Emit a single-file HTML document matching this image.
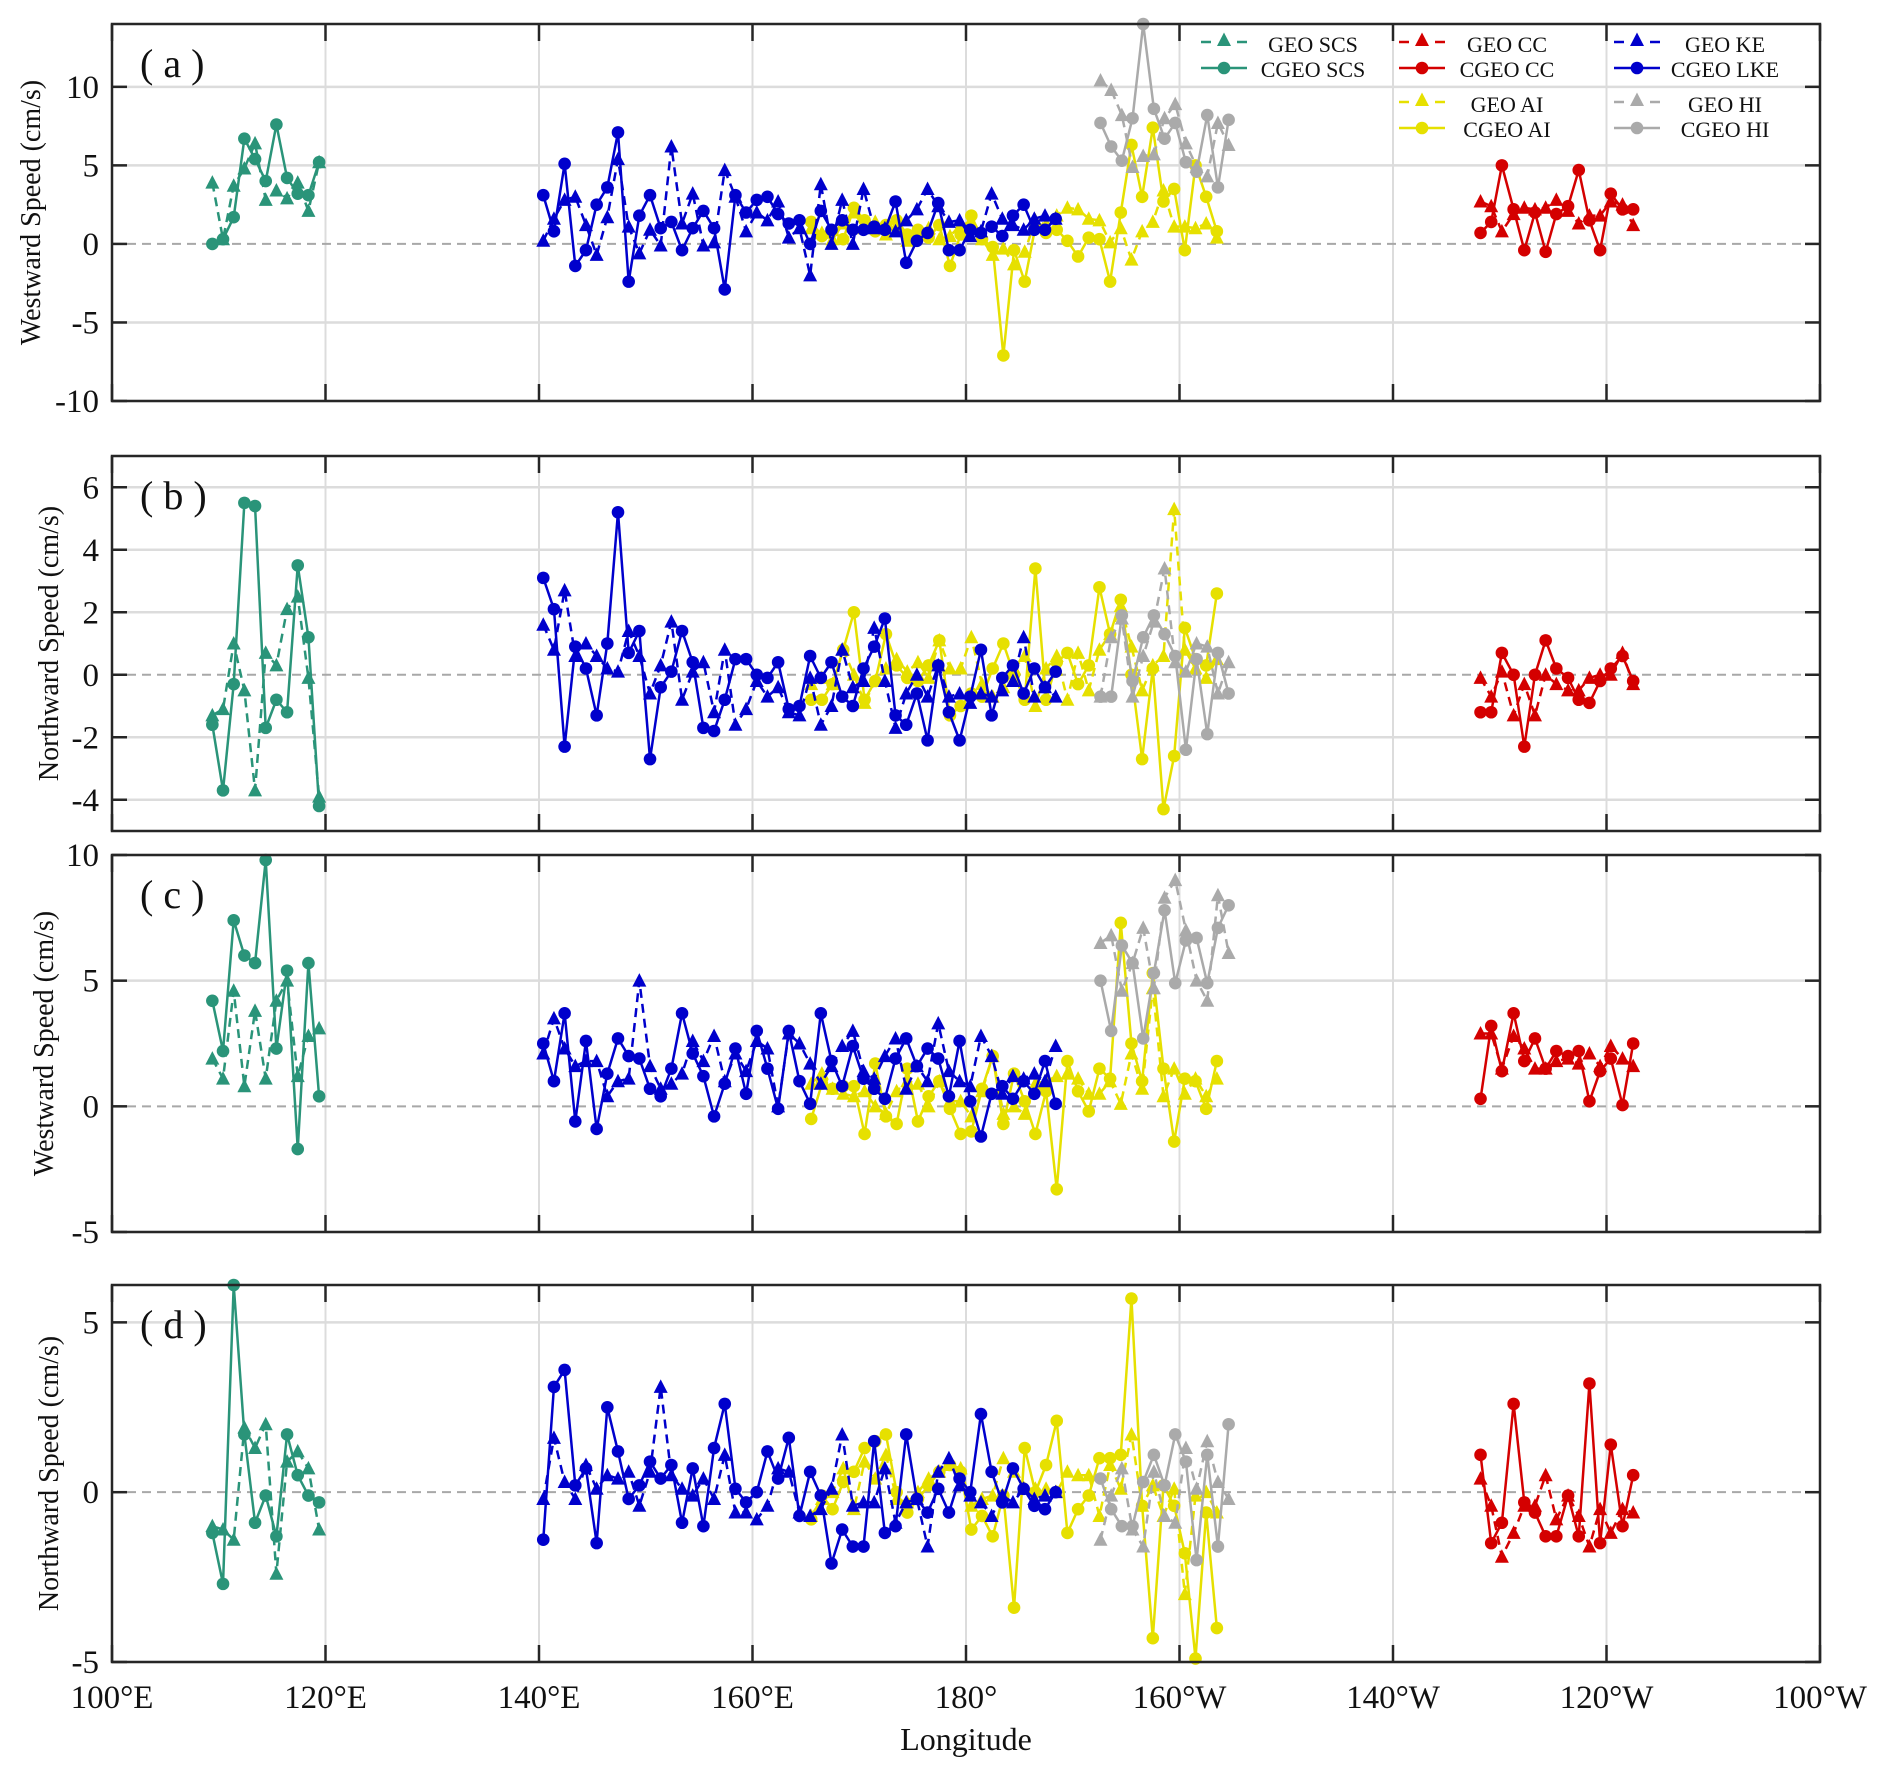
<!DOCTYPE html>
<html><head><meta charset="utf-8">
<style>
html,body{margin:0;padding:0;background:#fff;}
svg{display:block;font-family:"Liberation Serif",serif;}
</style></head>
<body>
<svg id="fig" width="1892" height="1779" viewBox="0 0 1892 1779" xmlns="http://www.w3.org/2000/svg"></svg>
<script>
// ---- categories (longitude, degrees east) ----
const scsLon=[109.4,110.4,111.4,112.4,113.4,114.4,115.4,116.4,117.4,118.4,119.4];
const keLon=[140.4,141.4,142.4,143.4,144.4,145.4,146.4,147.4,148.4,149.4,150.4,151.4,152.4,153.4,154.4,155.4,156.4,157.4,158.4,159.4,160.4,161.4,162.4,163.4,164.4,165.4,166.4,167.4,168.4,169.4,170.4,171.4,172.4,173.4,174.4,175.4,176.4,177.4,178.4,179.4,180.4,181.4,182.4,183.4,184.4,185.4,186.4,187.4,188.4];
const aiLon=[165.5,166.5,167.5,168.5,169.5,170.5,171.5,172.5,173.5,174.5,175.5,176.5,177.5,178.5,179.5,180.5,181.5,182.5,183.5,184.5,185.5,186.5,187.5,188.5,189.5,190.5,191.5,192.5,193.5,194.5,195.5,196.5,197.5,198.5,199.5,200.5,201.5,202.5,203.5];
const hiLon=[192.6,193.6,194.6,195.6,196.6,197.6,198.6,199.6,200.6,201.6,202.6,203.6,204.6];
const ccLon=[228.2,229.2,230.2,231.3,232.3,233.3,234.3,235.3,236.4,237.4,238.4,239.4,240.4,241.5,242.5];

// ---- panel (a) westward ----
const aScsGeo=[3.9,0.3,3.7,4.8,6.4,2.8,3.4,2.9,3.9,2.1,5.2];
const aScsCgeo=[0,0.3,1.7,6.7,5.4,4.0,7.6,4.2,3.2,3.1,5.2];
const aKeGeo=[0.2,1.6,2.8,3.0,1.2,-0.7,1.7,5.4,1.1,-0.6,0.9,-0.1,6.2,1.3,3.2,-0.1,0.1,4.7,3.0,0.8,2.0,1.5,2.7,0.4,1.0,-2.0,3.8,0,2.8,0,3.5,1.0,1.0,0.8,1.5,2.2,3.5,2.4,1.4,1.5,0.5,0.8,3.2,1.6,1.2,0.9,1.6,1.8,1.6];
const aKeCgeo=[3.1,0.8,5.1,-1.4,-0.4,2.5,3.6,7.1,-2.4,1.8,3.1,1.0,1.4,-0.4,1.0,2.1,1.0,-2.9,3.1,2.0,2.8,3.0,1.9,1.3,1.5,0,2.1,0.9,1.5,0.9,0.9,1.1,0.9,2.7,-1.2,0.2,0.7,2.6,-0.4,-0.4,0.9,0.7,1.1,0.5,1.8,2.5,0.9,0.9,1.6];
const aAiGeo=[1.0,0.7,0.3,1.3,2.0,1.0,1.4,0.6,1.2,0.2,0.8,1.0,0.3,0.5,1.2,1.4,0.3,-0.7,-0.3,-1.3,-0.5,1.5,1.2,1.8,2.3,2.2,1.6,1.5,0.1,1.0,-1.0,0.8,1.4,3.4,1.1,1.1,1.0,1.3,0.4];
const aAiCgeo=[1.4,0.5,0.8,0.3,2.3,1.5,0.8,1.2,1.5,0.6,0.9,0.4,1.2,-1.4,0.6,1.8,0.3,-0.2,-7.1,-0.4,-2.4,1.1,0.7,0.9,0.2,-0.8,0.4,0.3,-2.4,2.0,6.3,3.0,7.4,2.7,3.5,-0.4,5.0,3.0,0.8];
const aHiGeo=[10.4,9.8,8.2,4.9,5.6,5.7,8.0,8.9,6.4,4.9,4.3,7.7,6.3];
const aHiCgeo=[7.7,6.2,5.3,8.0,14.0,8.6,6.7,7.7,5.2,4.6,8.2,3.6,7.9];
const aCcGeo=[2.7,2.4,0.8,1.9,2.3,2.2,2.3,2.8,2.1,1.3,1.8,1.8,2.7,2.5,1.2];
const aCcCgeo=[0.7,1.4,5.0,2.2,-0.4,2.0,-0.5,1.9,2.4,4.7,1.5,-0.4,3.2,2.2,2.2];

// ---- panel (b) northward ----
const bScsGeo=[-1.3,-1.1,1.0,-0.5,-3.7,0.7,0.3,2.1,2.5,-0.1,-3.9];
const bScsCgeo=[-1.6,-3.7,-0.3,5.5,5.4,-1.7,-0.8,-1.2,3.5,1.2,-4.2];
const bKeGeo=[1.6,0.8,2.7,0.6,1.0,0.6,0.2,0.1,1.4,0.6,-0.6,0.3,1.7,-0.8,0.1,0.4,-1.2,0.8,-1.6,-1.1,-0.2,-0.7,-0.4,-1.2,-1.3,-0.1,-1.6,-1.0,0.8,-0.4,-0.2,1.5,-0.2,-1.7,-0.6,0,-0.7,0.3,-0.7,-0.6,-0.9,-0.6,-0.7,-0.5,-0.2,1.2,-0.7,-0.4,-0.7];
const bKeCgeo=[3.1,2.1,-2.3,0.9,0.2,-1.3,1.0,5.2,0.7,1.4,-2.7,-0.4,0.1,1.4,0.4,-1.7,-1.8,-0.8,0.5,0.5,0,-0.1,0.4,-1.1,-1.0,0.6,-0.1,0.4,-0.7,-1.0,0.2,0.9,1.8,-1.3,-1.6,-0.6,-2.1,0.3,-1.2,-2.1,-0.7,0.8,-1.3,-0.1,0.3,-0.6,0.2,-0.4,0.1];
const bAiGeo=[-0.3,-0.1,-0.3,0.8,0,-0.9,-0.2,0.2,0.5,0.1,0.4,-0.1,1.1,0.2,0.2,1.2,-0.3,-0.7,-0.4,0.2,0.6,-1.0,0.2,0.6,-0.8,0.7,-0.5,0.8,1.3,2.2,0.9,-0.5,0.3,0.6,5.3,0.8,0.2,-0.1,0.5];
const bAiCgeo=[-0.8,-0.8,-0.3,0.8,2.0,-0.8,-0.2,1.3,0.3,-0.1,-0.2,0.3,1.1,-1.3,-1.0,-0.6,-0.7,0.2,1.0,0,-0.8,3.4,-0.8,0.4,0.7,-0.3,0.3,2.8,1.3,2.4,0,-2.7,0.2,-4.3,-2.6,1.5,0.5,0.3,2.6];
const bHiGeo=[-0.7,1.2,1.8,-0.7,0.6,1.7,3.4,0.4,0.1,1.0,0.9,-0.6,0.4];
const bHiCgeo=[-0.7,-0.7,1.9,-0.2,1.2,1.9,1.3,0.6,-2.4,0.5,-1.9,0.7,-0.6];
const bCcGeo=[-0.1,-0.7,0.1,-1.3,-0.3,-1.3,0,-0.3,-0.5,-0.5,-0.1,0,0,0.7,-0.3];
const bCcCgeo=[-1.2,-1.2,0.7,0,-2.3,0,1.1,0.2,-0.1,-0.8,-0.9,-0.2,0.2,0.6,-0.2];

// ---- panel (c) westward ----
const cScsGeo=[1.9,1.1,4.6,0.8,3.8,1.1,4.2,5.0,1.2,2.8,3.1];
const cScsCgeo=[4.2,2.2,7.4,6.0,5.7,9.8,2.3,5.4,-1.7,5.7,0.4];
const cKeGeo=[2.1,3.5,2.3,1.6,1.8,1.8,0.4,1.0,1.1,5.0,1.6,0.7,0.9,1.3,2.6,1.8,2.8,1.0,2.1,1.4,2.6,2.3,0,2.9,2.5,1.7,0.9,1.6,2.4,3.0,1.4,1.1,2.0,2.7,0.7,1.6,1.0,3.3,1.4,1.0,0.8,2.8,2.0,0.5,1.2,1.1,1.3,1.0,2.4];
const cKeCgeo=[2.5,1.0,3.7,-0.6,2.6,-0.9,1.3,2.7,2.0,1.9,0.7,0.4,1.5,3.7,2.1,1.2,-0.4,0.9,2.3,0.5,3.0,1.5,-0.1,3.0,1.0,0.1,3.7,1.8,0.8,2.4,1.1,0.7,0.3,1.9,2.7,1.6,2.3,1.9,0.4,2.6,0.2,-1.2,0.5,0.8,0.3,1.0,0.5,1.8,0.1];
const cAiGeo=[0.9,1.3,0.7,0.5,0.4,0.6,0,-0.3,0.6,1.0,0.9,0,1.0,0.2,0.2,-0.4,0.6,2.0,-0.3,0,-0.3,0.9,1.0,1.2,1.3,1.1,0.5,0.5,1.0,0.1,2.1,0.7,4.7,0.4,1.5,0.5,1.1,0.4,1.1];
const cAiCgeo=[-0.5,0.9,0.7,0.8,0.8,-1.1,1.7,-0.4,-0.7,1.5,-0.6,0.4,1.0,-0.1,-1.1,-1.0,0.7,2.0,-0.7,1.3,0.2,-1.1,0.6,-3.3,1.8,0.6,-0.2,1.5,1.1,7.3,2.5,1.0,5.3,1.5,-1.4,1.1,1.0,-0.1,1.8];
const cHiGeo=[6.5,6.8,4.6,5.7,7.1,4.7,8.3,9.0,7.0,5.0,4.2,8.4,6.1];
const cHiCgeo=[5.0,3.0,6.4,5.7,2.7,5.3,7.8,4.9,6.6,6.7,4.9,7.1,8.0];
const cCcGeo=[2.9,2.9,1.5,2.8,2.3,1.5,1.5,1.8,1.9,1.7,2.1,1.6,2.4,1.9,1.6];
const cCcCgeo=[0.3,3.2,1.4,3.7,1.8,2.7,1.5,2.2,2.0,2.2,0.2,1.4,1.9,0.05,2.5];

// ---- panel (d) northward ----
const dScsGeo=[-1.0,-1.1,-1.4,1.9,1.3,2.0,-2.4,0.9,1.2,0.7,-1.1];
const dScsCgeo=[-1.2,-2.7,6.1,1.7,-0.9,-0.1,-1.3,1.7,0.5,-0.1,-0.3];
const dKeGeo=[-0.2,1.6,0.3,-0.2,0.8,0.1,0.5,0.4,0.6,-0.4,0.6,3.1,0.5,0.1,-0.1,0.4,-0.2,1.1,-0.6,-0.6,-0.8,-0.4,0.7,0.6,-0.6,-0.7,-0.5,0.1,1.7,-0.4,-0.3,-0.3,0.7,-0.9,-0.3,-0.2,-1.6,0.6,1.0,0.2,-0.1,-0.3,-0.7,-0.1,-0.3,0.1,-0.2,-0.1,0];
const dKeCgeo=[-1.4,3.1,3.6,0.2,0.7,-1.5,2.5,1.2,-0.2,0.2,0.9,0.4,0.8,-0.9,0.7,-1.0,1.3,2.6,0.1,-0.3,0,1.2,0.4,1.6,-0.7,0.6,-0.1,-2.1,-1.1,-1.6,-1.6,1.5,-1.2,-1.0,1.7,-0.2,-0.6,0.1,-0.6,0.4,0,2.3,0.6,-0.3,0.7,0.1,-0.4,-0.5,0.0];
const dAiGeo=[-0.7,-0.2,0,0.7,-0.5,0.9,0.4,1.1,-0.2,-0.3,0,0.4,0.6,0.8,0.7,-0.4,-0.2,-0.1,1.0,0.6,0.1,0.1,0.1,0,0.6,0.5,0.5,-0.7,0.8,0.1,1.7,-0.4,0.2,-0.7,0.1,-3.0,-0.1,0,-0.6];
const dAiCgeo=[-0.8,-0.1,-0.5,0.3,0.6,1.3,1.5,1.7,0,-0.6,-0.2,0.2,0.6,0.8,0.6,-1.1,-0.7,-1.3,-0.1,-3.4,1.3,0,0.8,2.1,-1.2,-0.5,-0.1,1.0,1.0,1.1,5.7,-0.4,-4.3,0.2,-0.4,-1.8,-4.9,-0.6,-4.0];
const dHiGeo=[-1.4,-0.1,0.7,-1.1,-1.6,0.6,-0.7,-0.9,1.3,0.1,1.5,0.3,-0.2];
const dHiCgeo=[0.4,-0.5,-1.0,-1.0,0.3,1.1,0.2,1.7,0.9,-2.0,1.1,-1.6,2.0];
const dCcGeo=[0.4,-0.4,-1.9,-1.2,-0.4,-0.4,0.5,-0.8,-0.1,-0.7,-1.6,-0.5,-1.2,-0.5,-0.6];
const dCcCgeo=[1.1,-1.5,-0.9,2.6,-0.3,-0.6,-1.3,-1.3,-0.1,-1.3,3.2,-1.5,1.4,-1.0,0.5];

// ---- axis tick labels ----
const xTickVals=[100,120,140,160,180,200,220,240,260];
const xTickLabels=["100°E","120°E","140°E","160°E","180°","160°W","140°W","120°W","100°W"];
const aTicks=[-10,-5,0,5,10];
const bTicks=[-4,-2,0,2,4,6];
const cTicks=[-5,0,5,10];
const dTicks=[-5,0,5];

const COL={scs:"#2a9479",cc:"#d40000",ke:"#0000cc",ai:"#e6e000",hi:"#aaaaaa"};
const NS="http://www.w3.org/2000/svg";
const svg=document.getElementById("fig");
const X0=112,X1=1820,LON0=100,LON1=260;
function xs(lon){return X0+(lon-LON0)/(LON1-LON0)*(X1-X0);}
function mk(tag,attrs,parent){const e=document.createElementNS(NS,tag);for(const k in attrs)e.setAttribute(k,attrs[k]);(parent||svg).appendChild(e);return e;}

const panels=[
 {id:"a",top:24,bot:401,min:-10,max:14,ticks:aTicks,title:"Westward Speed (cm/s)",tx:30,
  s:[[scsLon,aScsGeo,aScsCgeo,"scs"],[ccLon,aCcGeo,aCcCgeo,"cc"],[aiLon,aAiGeo,aAiCgeo,"ai"],[keLon,aKeGeo,aKeCgeo,"ke"],[hiLon,aHiGeo,aHiCgeo,"hi"]]},
 {id:"b",top:456,bot:831,min:-5,max:7,ticks:bTicks,title:"Northward Speed (cm/s)",tx:48,
  s:[[scsLon,bScsGeo,bScsCgeo,"scs"],[ccLon,bCcGeo,bCcCgeo,"cc"],[aiLon,bAiGeo,bAiCgeo,"ai"],[keLon,bKeGeo,bKeCgeo,"ke"],[hiLon,bHiGeo,bHiCgeo,"hi"]]},
 {id:"c",top:855,bot:1232,min:-5,max:10,ticks:cTicks,title:"Westward Speed (cm/s)",tx:43,
  s:[[scsLon,cScsGeo,cScsCgeo,"scs"],[ccLon,cCcGeo,cCcCgeo,"cc"],[aiLon,cAiGeo,cAiCgeo,"ai"],[keLon,cKeGeo,cKeCgeo,"ke"],[hiLon,cHiGeo,cHiCgeo,"hi"]]},
 {id:"d",top:1285,bot:1662,min:-5,max:6.1,ticks:dTicks,title:"Northward Speed (cm/s)",tx:48,
  s:[[scsLon,dScsGeo,dScsCgeo,"scs"],[ccLon,dCcGeo,dCcCgeo,"cc"],[aiLon,dAiGeo,dAiCgeo,"ai"],[keLon,dKeGeo,dKeCgeo,"ke"],[hiLon,dHiGeo,dHiCgeo,"hi"]]}
];

function tri(g,x,y,c){return mk("polygon",{points:(x-7)+","+(y+6)+" "+(x+7)+","+(y+6)+" "+x+","+(y-7.5),fill:c},g);}

panels.forEach(P=>{
  const ys=v=>P.bot-(v-P.min)/(P.max-P.min)*(P.bot-P.top);
  const g=mk("g",{});
  
  
  xTickVals.forEach(v=>{const l=mk("line",{x1:xs(v),x2:xs(v),y1:P.top,y2:P.bot,stroke:"#dcdcdc","stroke-width":2},g);
    });
  P.ticks.forEach(v=>{if(v===0)return;const l=mk("line",{x1:X0,x2:X1,y1:ys(v),y2:ys(v),stroke:"#dcdcdc","stroke-width":2.5},g);
    });
  const z=mk("line",{x1:X0,x2:X1,y1:ys(0),y2:ys(0),stroke:"#a8a8a8","stroke-width":2,"stroke-dasharray":"9 6"},g);
  
  P.s.forEach(S=>{
    const [lon,geo,cgeo,k]=S;const c=COL[k];
    const sg=mk("g",{},g);
    
    
    const pg=lon.map((L,i)=>xs(L)+","+ys(geo[i])).join(" ");
    const pc=lon.map((L,i)=>xs(L)+","+ys(cgeo[i])).join(" ");
    const lg=mk("polyline",{points:pg,fill:"none",stroke:c,"stroke-width":2.5,"stroke-dasharray":"9 6"},sg);
    
    lon.forEach((L,i)=>{const t=tri(sg,xs(L),ys(geo[i]),c);
      });
    const lc=mk("polyline",{points:pc,fill:"none",stroke:c,"stroke-width":2.5},sg);
    
    lon.forEach((L,i)=>{const ci=mk("circle",{cx:xs(L),cy:ys(cgeo[i]),r:6.3,fill:c},sg);
      });
  });
  const fr=mk("rect",{x:X0,y:P.top,width:X1-X0,height:P.bot-P.top,fill:"none",stroke:"#262626","stroke-width":2.5},g);
  
  xTickVals.forEach(v=>{mk("line",{x1:xs(v),x2:xs(v),y1:P.bot,y2:P.bot-17,stroke:"#262626","stroke-width":2.5},g);
    mk("line",{x1:xs(v),x2:xs(v),y1:P.top,y2:P.top+17,stroke:"#262626","stroke-width":2.5},g);});
  P.ticks.forEach(v=>{mk("line",{x1:X0,x2:X0+15,y1:ys(v),y2:ys(v),stroke:"#262626","stroke-width":2.5},g);
    mk("line",{x1:X1,x2:X1-15,y1:ys(v),y2:ys(v),stroke:"#262626","stroke-width":2.5},g);
    const t=mk("text",{x:99,y:ys(v)+11,"text-anchor":"end","font-size":33,fill:"#111"},g);t.textContent=v;
    });
  const pl=mk("text",{x:140,y:P.top+53,"font-size":40,fill:"#111","letter-spacing":"10"},g);
  pl.textContent="("+P.id+")";
  
  const cy=(P.top+P.bot)/2;
  const yt=mk("text",{x:P.tx,y:cy,"text-anchor":"middle","font-size":28,fill:"#111",transform:"rotate(-90 "+P.tx+" "+cy+")",dy:"10"},g);
  yt.textContent=P.title;
});

xTickVals.forEach((v,i)=>{const t=mk("text",{x:xs(v),y:1708,"text-anchor":"middle","font-size":33,fill:"#111"});
  t.textContent=xTickLabels[i];});
const xt=mk("text",{x:966,y:1750,"text-anchor":"middle","font-size":32,fill:"#111"});
xt.textContent="Longitude";

const lgG=mk("g",{});

const legendItems=[["scs","GEO SCS","CGEO SCS",1201,1313,48],["cc","GEO CC","CGEO CC",1399,1507,48],["ke","GEO KE","CGEO LKE",1614,1725,48],["ai","GEO AI","CGEO AI",1399,1507,108],["hi","GEO HI","CGEO HI",1614,1725,108]];
legendItems.forEach(it=>{
  const [k,n1,n2,sx,tx,y]=it;const c=COL[k];
  const e=mk("g",{},lgG);
  
  mk("line",{x1:sx,x2:sx+10,y1:y-6,y2:y-6,stroke:c,"stroke-width":2.5},e);
  mk("line",{x1:sx+36,x2:sx+46,y1:y-6,y2:y-6,stroke:c,"stroke-width":2.5},e);
  tri(e,sx+23,y-8,c);
  const t1=mk("text",{x:tx,y:y+4,"text-anchor":"middle","font-size":22,fill:"#111"},e);t1.textContent=n1;
  mk("line",{x1:sx,x2:sx+46,y1:y+20,y2:y+20,stroke:c,"stroke-width":2.5},e);
  mk("circle",{cx:sx+23,cy:y+20,r:6.3,fill:c},e);
  const t2=mk("text",{x:tx,y:y+29,"text-anchor":"middle","font-size":22,fill:"#111"},e);t2.textContent=n2;
});
</script>
</body></html>
